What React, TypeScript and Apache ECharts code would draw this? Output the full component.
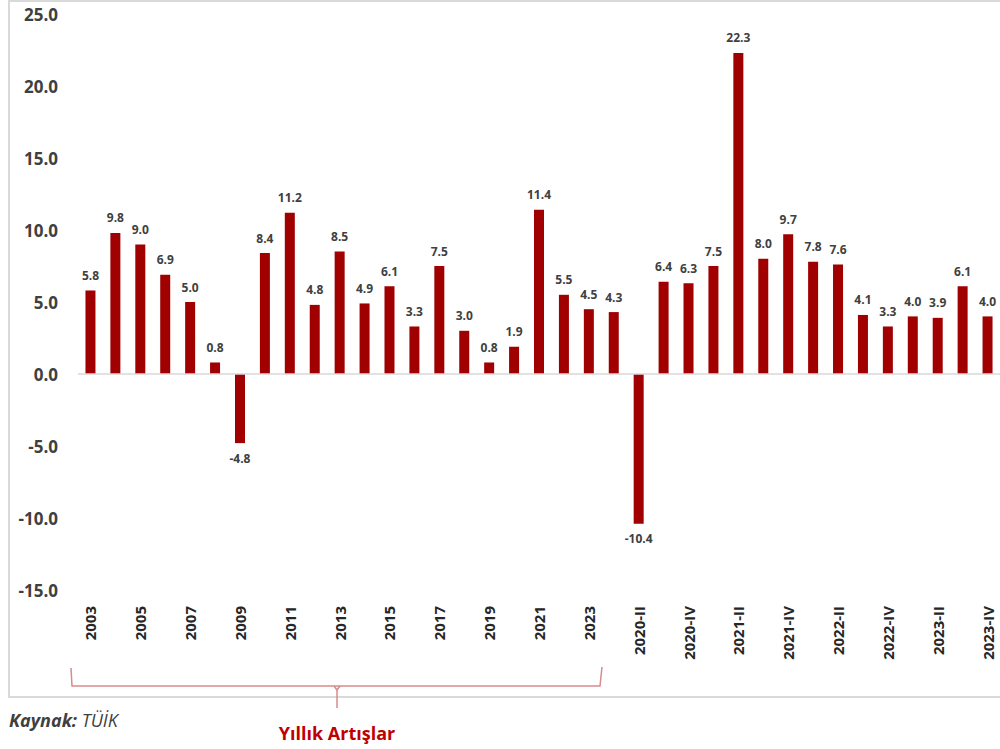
import React, { useEffect, useRef } from "react";
import * as echarts from "echarts";

const categories = [
  "2003", "2004", "2005", "2006", "2007", "2008", "2009", "2010", "2011", "2012",
  "2013", "2014", "2015", "2016", "2017", "2018", "2019", "2020", "2021", "2022", "2023",
  "2020-I", "2020-II", "2020-III", "2020-IV", "2021-I", "2021-II", "2021-III", "2021-IV",
  "2022-I", "2022-II", "2022-III", "2022-IV", "2023-I", "2023-II", "2023-III", "2023-IV",
];
const values = [
  5.8, 9.8, 9.0, 6.9, 5.0, 0.8, -4.8, 8.4, 11.2, 4.8,
  8.5, 4.9, 6.1, 3.3, 7.5, 3.0, 0.8, 1.9, 11.4, 5.5, 4.5,
  4.3, -10.4, 6.4, 6.3, 7.5, 22.3, 8.0, 9.7,
  7.8, 7.6, 4.1, 3.3, 4.0, 3.9, 6.1, 4.0,
];
const yMin = -15;
const yMax = 25;
const yStep = 5;
const bracketLabel = "Yıllık Artışlar";
const sourceBold = "Kaynak:";
const sourceText = " TÜİK";

export default function App() {
  const ref = useRef<HTMLDivElement>(null);
  useEffect(() => {
    if (!ref.current) return;
    const chart = echarts.init(ref.current, undefined, { renderer: "svg" });
    const labelFont = "'Open Sans', 'Liberation Sans', sans-serif";
    chart.setOption({
      animation: false,
      grid: { left: 78, right: -6, top: 14, bottom: 159, containLabel: false },
      xAxis: {
        type: "category",
        data: categories,
        axisLine: { show: false },
        axisTick: { show: false },
        axisLabel: {
          interval: 1,
          rotate: 90,
          margin: 16,
          color: "#262626",
          fontFamily: labelFont,
          fontWeight: "bold",
          fontSize: 15,
        },
      },
      yAxis: {
        type: "value",
        min: yMin,
        max: yMax,
        interval: yStep,
        splitLine: { show: false },
        axisLine: { show: false },
        axisTick: { show: false },
        axisLabel: {
          margin: 20,
          color: "#404040",
          fontFamily: labelFont,
          fontWeight: "bold",
          fontSize: 17,
          formatter: (v: number) => v.toFixed(1),
        },
      },
      series: [
        {
          type: "bar",
          barWidth: 10,
          itemStyle: { color: "#A00000" },
          data: values.map((v) => ({
            value: v,
            label: { position: v < 0 ? "bottom" : "top" },
          })),
          label: {
            show: true,
            distance: 9,
            color: "#404040",
            fontFamily: labelFont,
            fontWeight: "bold",
            fontSize: 12,
            formatter: (p: any) => Number(p.value).toFixed(1),
          },
          markLine: {
            silent: true,
            symbol: "none",
            label: { show: false },
            lineStyle: { color: "#d9d9d9", width: 1.5, type: "solid" },
            data: [{ yAxis: 0 }],
          },
        },
      ],
      graphic: [
        {
          type: "rect",
          shape: { x: 9, y: 1, width: 1100, height: 696 },
          style: { fill: "none", stroke: "#d9d9d9", lineWidth: 2 },
          silent: true,
        },
        {
          type: "polyline",
          shape: { points: [[71, 668], [72, 686], [600, 686], [602, 667]] },
          style: { stroke: "#d98a8c", lineWidth: 1.5, fill: "none" },
          silent: true,
        },
        {
          type: "polyline",
          shape: { points: [[334, 686], [337, 690], [337, 708]] },
          style: { stroke: "#d98a8c", lineWidth: 1.5, fill: "none" },
          silent: true,
        },
        {
          type: "polyline",
          shape: { points: [[340, 686], [337, 690]] },
          style: { stroke: "#d98a8c", lineWidth: 1.5, fill: "none" },
          silent: true,
        },
        {
          type: "text",
          x: 337,
          y: 733,
          style: {
            text: bracketLabel,
            fill: "#C00000",
            font: "bold 18px 'Open Sans', sans-serif",
            align: "center",
            verticalAlign: "middle",
          },
          silent: true,
        },
        {
          type: "text",
          x: 9,
          y: 720,
          style: {
            rich: {
              b: { font: "italic bold 18px 'Open Sans', sans-serif", fill: "#404040" },
              n: { font: "italic 18px 'Open Sans', sans-serif", fill: "#404040" },
            },
            text: `{b|${sourceBold}}{n|${sourceText}}`,
            verticalAlign: "middle",
          },
          silent: true,
        },
      ],
    });
    return () => chart.dispose();
  }, []);
  return (
    <div
      ref={ref}
      style={{ position: "fixed", left: 0, top: 0, width: 1000, height: 749, background: "#fff" }}
    />
  );
}
